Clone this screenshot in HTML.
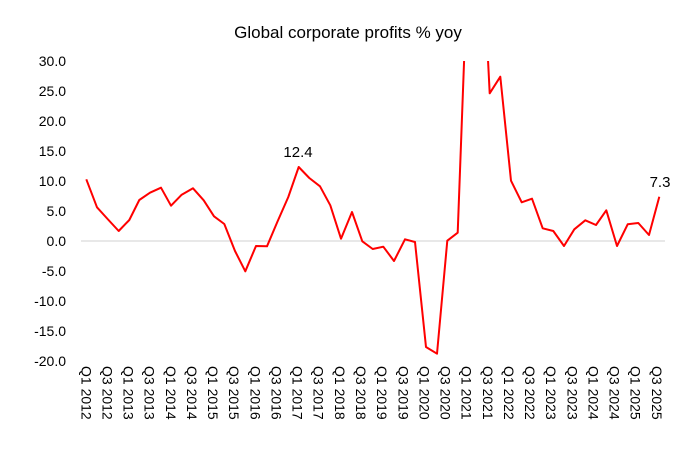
<!DOCTYPE html>
<html><head><meta charset="utf-8"><style>
html,body{margin:0;padding:0;background:#fff;}
svg{display:block;font-family:"Liberation Sans",sans-serif;}
</style></head><body>
<svg width="696" height="460" viewBox="0 0 696 460">
<defs><clipPath id="c"><rect x="70" y="61" width="620" height="320"/></clipPath></defs>
<text x="348" y="38" font-size="17" text-anchor="middle" fill="#000">Global corporate profits % yoy</text>
<g font-size="14" text-anchor="end" fill="#000">
<text x="66" y="66">30.0</text>
<text x="66" y="96">25.0</text>
<text x="66" y="126">20.0</text>
<text x="66" y="156">15.0</text>
<text x="66" y="186">10.0</text>
<text x="66" y="216">5.0</text>
<text x="66" y="246">0.0</text>
<text x="66" y="276">-5.0</text>
<text x="66" y="306">-10.0</text>
<text x="66" y="336">-15.0</text>
<text x="66" y="366">-20.0</text>
</g>
<line x1="81" y1="241" x2="665" y2="241" stroke="#d0d0d0" stroke-width="1"/>
<polyline clip-path="url(#c)" fill="none" stroke="#ff0000" stroke-width="2" stroke-linejoin="round" points="86.3,179.3 97,207.3 107.6,219 118.7,231 129.3,220 139.3,200 150,192.7 161,187.7 171,205.7 181.7,194.7 193,188.3 203.7,200.3 214,216.3 224.3,224 235,251 245.3,271.3 256,246 267,246.3 277.3,222 288.3,197 298.7,167 309.3,178 320,186.3 330.3,205.3 341,238.7 352,212 362.3,241.3 372.7,249 383.3,246.7 394,261 405,239.3 415,242 426,347 437,353.7 447.3,240.7 457.7,232.7 468.5,-58 479,-118 489.7,93.3 500.3,76.7 511,180.7 521.7,202.3 532,198.7 542.7,228.3 553.3,231 564,246 574.3,229.3 585.3,220.3 596,225 606.3,210.3 617,246 627.7,224.3 638.3,223 649,235 659.3,196.7"/>
<text x="298" y="157" font-size="15" text-anchor="middle" fill="#000">12.4</text>
<text x="660" y="187" font-size="15" text-anchor="middle" fill="#000">7.3</text>
<g font-size="14" fill="#000" id="xl"></g>
</svg>
<script>
var g=document.getElementById('xl'),s='';
for(var i=0;i<28;i++){var k=i*2;var x=86.3+k*10.565-5;var y=2012+Math.floor(k/4);var q=(k%4==0)?'Q1':'Q3';
s+='<text transform="translate('+x.toFixed(1)+',366) rotate(90)">'+q+' '+y+'</text>';}
g.innerHTML=s;
</script>
</body></html>
